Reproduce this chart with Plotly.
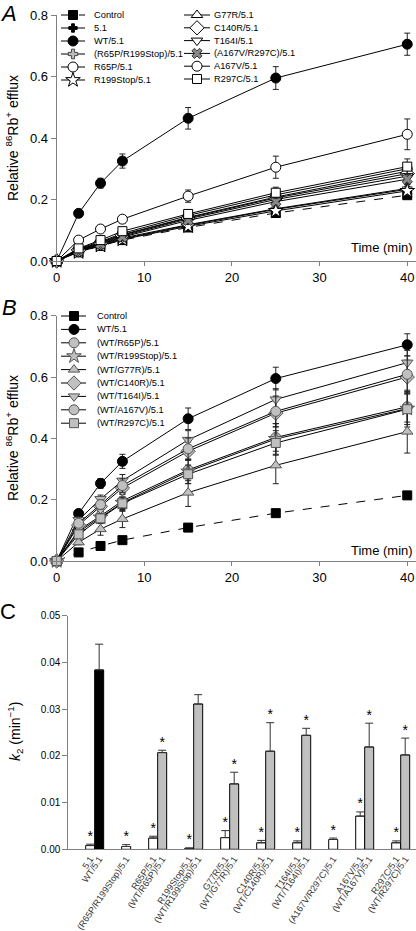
import plotly.graph_objects as go

# ---------------- data ----------------
time_min = [0, 2.5, 5, 7.5, 15, 25, 40]

# Panel A: relative 86Rb+ efflux
control = [0, 0.028, 0.049, 0.068, 0.109, 0.156, 0.214]
control_err = [0, 0.003, 0.003, 0.004, 0.005, 0.006, 0.008]
kir51 = [0, 0.030, 0.052, 0.072, 0.116, 0.168, 0.233]
kir51_err = [0, 0.004, 0.005, 0.006, 0.008, 0.010, 0.015]
wt = [0, 0.155, 0.253, 0.325, 0.464, 0.595, 0.705]
wt_err = [0, 0.011, 0.016, 0.023, 0.035, 0.037, 0.036]
r65p_r199stop = [0, 0.032, 0.054, 0.075, 0.118, 0.170, 0.236]
r65p_r199stop_err = [0, 0.004, 0.005, 0.006, 0.008, 0.010, 0.014]
r65p = [0, 0.040, 0.063, 0.090, 0.148, 0.215, 0.300]
r65p_err = [0, 0.005, 0.006, 0.008, 0.012, 0.015, 0.020]
r199stop = [0, 0.029, 0.050, 0.070, 0.113, 0.163, 0.228]
r199stop_err = [0, 0.004, 0.005, 0.006, 0.008, 0.010, 0.014]
g77r = [0, 0.037, 0.061, 0.086, 0.142, 0.208, 0.292]
g77r_err = [0, 0.005, 0.006, 0.008, 0.011, 0.014, 0.018]
c140r = [0, 0.036, 0.059, 0.084, 0.140, 0.205, 0.284]
c140r_err = [0, 0.005, 0.006, 0.008, 0.011, 0.014, 0.018]
t164i = [0, 0.034, 0.057, 0.081, 0.137, 0.200, 0.276]
t164i_err = [0, 0.005, 0.006, 0.008, 0.011, 0.014, 0.018]
a167v_r297c = [0, 0.033, 0.055, 0.078, 0.132, 0.193, 0.266]
a167v_r297c_err = [0, 0.005, 0.006, 0.008, 0.010, 0.013, 0.017]
a167v = [0, 0.068, 0.104, 0.136, 0.211, 0.305, 0.412]
a167v_err = [0, 0.005, 0.008, 0.012, 0.020, 0.036, 0.050]
r297c = [0, 0.041, 0.068, 0.097, 0.153, 0.222, 0.307]
r297c_err = [0, 0.006, 0.008, 0.010, 0.014, 0.018, 0.025]

# Panel B: co-expression with WT
wt_r65p = [0, 0.100, 0.147, 0.196, 0.297, 0.403, 0.503]
wt_r65p_err = [0, 0.012, 0.018, 0.025, 0.035, 0.045, 0.050]
wt_r199stop = [0, 0.095, 0.142, 0.190, 0.292, 0.398, 0.497]
wt_r199stop_err = [0, 0.012, 0.020, 0.028, 0.040, 0.050, 0.060]
wt_g77r = [0, 0.061, 0.104, 0.137, 0.223, 0.312, 0.422]
wt_g77r_err = [0, 0.008, 0.020, 0.028, 0.045, 0.060, 0.070]
wt_c140r = [0, 0.117, 0.178, 0.238, 0.358, 0.482, 0.600]
wt_c140r_err = [0, 0.010, 0.015, 0.020, 0.030, 0.045, 0.055]
wt_t164i = [0, 0.134, 0.202, 0.262, 0.395, 0.527, 0.647]
wt_t164i_err = [0, 0.010, 0.013, 0.020, 0.030, 0.035, 0.040]
wt_a167v = [0, 0.123, 0.184, 0.246, 0.366, 0.488, 0.609]
wt_a167v_err = [0, 0.010, 0.015, 0.022, 0.035, 0.050, 0.060]
wt_r297c = [0, 0.087, 0.139, 0.188, 0.283, 0.385, 0.495]
wt_r297c_err = [0, 0.010, 0.015, 0.020, 0.030, 0.040, 0.050]

# Panel C: k2 rate constants
k2_labels = ["5.1", "WT/5.1", "(R65P/R199Stop)/5.1", "R65P/5.1", "(WT/R65P)/5.1",
             "R199Stop/5.1", "(WT/R199Stop)/5.1", "G77R/5.1", "(WT/G77R)/5.1",
             "C140R/5.1", "(WT/C140R)/5.1", "T164I/5.1", "(WT/T164I)/5.1",
             "(A167V/R297C)/5.1", "A167V/5.1", "(WT/A167V)/5.1", "R297C/5.1", "(WT/R297C)/5.1"]
k2_values = [0.0008, 0.0384, 0.0006, 0.0024, 0.0207, 0.0002, 0.0311, 0.0025, 0.0140,
             0.0014, 0.0210, 0.0014, 0.0244, 0.0021, 0.0071, 0.0219, 0.0014, 0.0202]
k2_errors = [0.0003, 0.0055, 0.0004, 0.0004, 0.0005, 0.0001, 0.0020, 0.0015, 0.0025,
             0.0005, 0.0061, 0.0004, 0.0015, 0.0003, 0.0009, 0.0051, 0.0004, 0.0036]
k2_kind = ["mut", "wt", "mut", "mut", "het", "mut", "het", "mut", "het",
           "mut", "het", "mut", "het", "mut", "mut", "het", "mut", "het"]
k2_group = [0, 0, 1, 2, 2, 3, 3, 4, 4, 5, 5, 6, 6, 7, 8, 8, 9, 9]
k2_significant = [1, 0, 1, 1, 1, 1, 0, 1, 1, 1, 1, 1, 1, 1, 1, 1, 1, 1]

# ---------------- styling ----------------
W, H = 416, 931
FONT = "Liberation Sans, Arial, sans-serif"
AX = "#808080"
GRAY = "#c0c0c0"
kind_color = {"mut": "#ffffff", "wt": "#000000", "het": GRAY}

def sty(symbol, fill, size=10, line="#000", dash="solid"):
    return dict(symbol=symbol, fill=fill, size=size, line=line, dash=dash)

series_a = [
    ("Control", control, control_err, sty("square", "#000", 9, dash="dash")),
    ("5.1", kir51, kir51_err, sty("cross", "#000", 7)),
    ("WT/5.1", wt, wt_err, sty("circle", "#000", 10)),
    ("(R65P/R199Stop)/5.1", r65p_r199stop, r65p_r199stop_err, sty("cross", "#bbbbbb", 8, "#444")),
    ("R65P/5.1", r65p, r65p_err, sty("circle", "#fff", 10)),
    ("R199Stop/5.1", r199stop, r199stop_err, sty("star", "#fff", 11)),
    ("G77R/5.1", g77r, g77r_err, sty("triangle-up", "#fff", 10)),
    ("C140R/5.1", c140r, c140r_err, sty("diamond", "#fff", 11)),
    ("T164I/5.1", t164i, t164i_err, sty("triangle-down", "#fff", 10)),
    ("(A167V/R297C)/5.1", a167v_r297c, a167v_r297c_err, sty("x", "#888888", 9, "#333")),
    ("A167V/5.1", a167v, a167v_err, sty("circle", "#fff", 10)),
    ("R297C/5.1", r297c, r297c_err, sty("square", "#fff", 9)),
]
series_b = [
    ("Control", control, control_err, sty("square", "#000", 9, dash="dash")),
    ("WT/5.1", wt, wt_err, sty("circle", "#000", 10)),
    ("(WT/R65P)/5.1", wt_r65p, wt_r65p_err, sty("circle", GRAY, 10, "#555")),
    ("(WT/R199Stop)/5.1", wt_r199stop, wt_r199stop_err, sty("star", GRAY, 11, "#555")),
    ("(WT/G77R)/5.1", wt_g77r, wt_g77r_err, sty("triangle-up", GRAY, 10, "#555")),
    ("(WT/C140R)/5.1", wt_c140r, wt_c140r_err, sty("diamond", GRAY, 11, "#555")),
    ("(WT/T164I)/5.1", wt_t164i, wt_t164i_err, sty("triangle-down", GRAY, 10, "#555")),
    ("(WT/A167V)/5.1", wt_a167v, wt_a167v_err, sty("circle", GRAY, 10, "#555")),
    ("(WT/R297C)/5.1", wt_r297c, wt_r297c_err, sty("square", GRAY, 9, "#555")),
]

fig = go.Figure()

def add_series(y, err, st, xa, ya):
    fig.add_trace(go.Scatter(
        x=time_min, y=y, mode="lines+markers", xaxis=xa, yaxis=ya,
        line=dict(color="#000", width=1, dash=st["dash"]),
        marker=dict(symbol=st["symbol"], size=st["size"], color=st["fill"],
                    line=dict(color=st["line"], width=1)),
        error_y=dict(type="data", array=err, color="#222", thickness=1, width=3),
        cliponaxis=False, showlegend=False, hoverinfo="skip"))

for name, y, e, st in series_a:
    add_series(y, e, st, "x", "y")
for name, y, e, st in series_b:
    add_series(y, e, st, "x2", "y2")

# Panel C bar positions from group structure
positions = []
pos = 0
for i, g in enumerate(k2_group):
    if i > 0:
        pos += 1 if g == k2_group[i - 1] else 3
    positions.append(pos)

fig.add_trace(go.Bar(
    x=positions, y=k2_values, width=1.0, xaxis="x3", yaxis="y3",
    marker=dict(color=[kind_color[k] for k in k2_kind], line=dict(color="#000", width=1)),
    error_y=dict(type="data", symmetric=False, array=k2_errors,
                 arrayminus=[0] * len(k2_errors), color="#333", thickness=1, width=4),
    showlegend=False, hoverinfo="skip"))

star_x = [p for p, s in zip(positions, k2_significant) if s]
star_y = [v + e for v, e, s in zip(k2_values, k2_errors, k2_significant) if s]
fig.add_trace(go.Scatter(
    x=star_x, y=star_y, mode="text", text=["*"] * len(star_x),
    textposition="top center", textfont=dict(size=14, color="#000", family=FONT),
    xaxis="x3", yaxis="y3", showlegend=False, cliponaxis=False, hoverinfo="skip"))

# ---------------- manual legends (overlay axes in pixel units) ----------------
annotations = []

def legend_block(entries, x0, x1, xm, xt, ytop, dy):
    for i, (name, y, e, st) in enumerate(entries):
        yy = ytop + i * dy
        fig.add_trace(go.Scatter(
            x=[x0, x1], y=[yy, yy], mode="lines", xaxis="x4", yaxis="y4",
            line=dict(color="#000", width=1, dash=st["dash"]),
            showlegend=False, hoverinfo="skip"))
        fig.add_trace(go.Scatter(
            x=[xm], y=[yy], mode="markers", xaxis="x4", yaxis="y4",
            marker=dict(symbol=st["symbol"], size=st["size"], color=st["fill"],
                        line=dict(color=st["line"], width=1)),
            showlegend=False, hoverinfo="skip"))
        annotations.append(dict(x=xt, y=yy, xref="x4", yref="y4", text=name,
                                showarrow=False, xanchor="left", yanchor="middle",
                                font=dict(size=9.3, color="#000", family=FONT)))

legend_block(series_a[:6], 61, 85, 73, 92, 15, 13.0)
legend_block(series_a[6:], 184, 210, 197, 212, 15, 12.8)
legend_block(series_b, 61, 86, 74, 95, 316, 13.4)

def px_x(p):
    return p / W

def px_y(p):
    return 1 - p / H

extra = [
    dict(x=px_x(8), y=px_y(13), text="<i>A</i>", font=dict(size=22)),
    dict(x=px_x(9), y=px_y(307), text="<i>B</i>", font=dict(size=22)),
    dict(x=px_x(8), y=px_y(611), text="C", font=dict(size=22)),
    dict(x=px_x(12), y=px_y(138), text="Relative <sup>86</sup>Rb<sup>+</sup> efflux",
         textangle=-90, font=dict(size=14)),
    dict(x=px_x(12), y=px_y(438), text="Relative <sup>86</sup>Rb<sup>+</sup> efflux",
         textangle=-90, font=dict(size=14)),
    dict(x=px_x(15), y=px_y(732), text="<i>k</i><sub>2</sub> (min<sup>−1</sup>)",
         textangle=-90, font=dict(size=14)),
    dict(x=px_x(415), y=px_y(248), text="Time (min)", xanchor="right", font=dict(size=13)),
    dict(x=px_x(415), y=px_y(550), text="Time (min)", xanchor="right", font=dict(size=13)),
]
for a in extra:
    a.setdefault("xref", "paper")
    a.setdefault("yref", "paper")
    a.setdefault("xanchor", "center")
    a.setdefault("yanchor", "middle")
    a["showarrow"] = False
    a["font"] = dict(family=FONT, color="#000", **a["font"])
annotations += extra

common_x = dict(showline=True, linecolor=AX, linewidth=1, ticks="outside", ticklen=4,
                tickcolor=AX, showgrid=False, zeroline=False,
                tickfont=dict(size=13, color="#000", family=FONT))
common_y = dict(showline=True, linecolor=AX, linewidth=1, ticks="outside", ticklen=5,
                tickcolor=AX, showgrid=False, zeroline=False,
                tickfont=dict(size=13, color="#000", family=FONT))

fig.update_layout(
    width=W, height=H, margin=dict(l=0, r=0, t=0, b=0, autoexpand=False),
    paper_bgcolor="#ffffff", plot_bgcolor="rgba(0,0,0,0)",
    font=dict(family=FONT, color="#000"),
    showlegend=False,
    xaxis=dict(domain=[px_x(56.7), 1.0], range=[0, 41], anchor="y",
               tickvals=[0, 10, 20, 30, 40], **common_x),
    yaxis=dict(domain=[px_y(261), px_y(15)], range=[0, 0.8], anchor="x",
               tickvals=[0, 0.2, 0.4, 0.6, 0.8], tickformat=".1f", **common_y),
    xaxis2=dict(domain=[px_x(56.7), 1.0], range=[0, 41], anchor="y2",
                tickvals=[0, 10, 20, 30, 40], **common_x),
    yaxis2=dict(domain=[px_y(561), px_y(315.7)], range=[0, 0.8], anchor="x2",
                tickvals=[0, 0.2, 0.4, 0.6, 0.8], tickformat=".1f", **common_y),
    xaxis3=dict(domain=[px_x(68.3), 1.0], range=[-2.43, 36.2], anchor="y3",
                showline=True, linecolor=AX, linewidth=1, ticks="", showgrid=False,
                zeroline=False, tickvals=positions, ticktext=k2_labels, tickangle=-56,
                tickfont=dict(size=9, color="#333", family=FONT)),
    yaxis3=dict(domain=[px_y(849.3), px_y(615.7)], range=[0, 0.05], anchor="x3",
                showline=True, linecolor=AX, linewidth=1, ticks="outside", ticklen=5,
                tickcolor=AX, showgrid=False, zeroline=False,
                tickvals=[0, 0.01, 0.02, 0.03, 0.04, 0.05], tickformat=".2f",
                tickfont=dict(size=10, color="#000", family=FONT)),
    xaxis4=dict(domain=[0, 1], range=[0, W], anchor="y4", visible=False, fixedrange=True),
    yaxis4=dict(domain=[0, 1], range=[H, 0], anchor="x4", visible=False, fixedrange=True),
    annotations=annotations,
)

fig.write_html("out.html",
               config={"displayModeBar": False, "staticPlot": True},
               post_script="document.body.style.margin='0';document.body.style.overflow='hidden';")
